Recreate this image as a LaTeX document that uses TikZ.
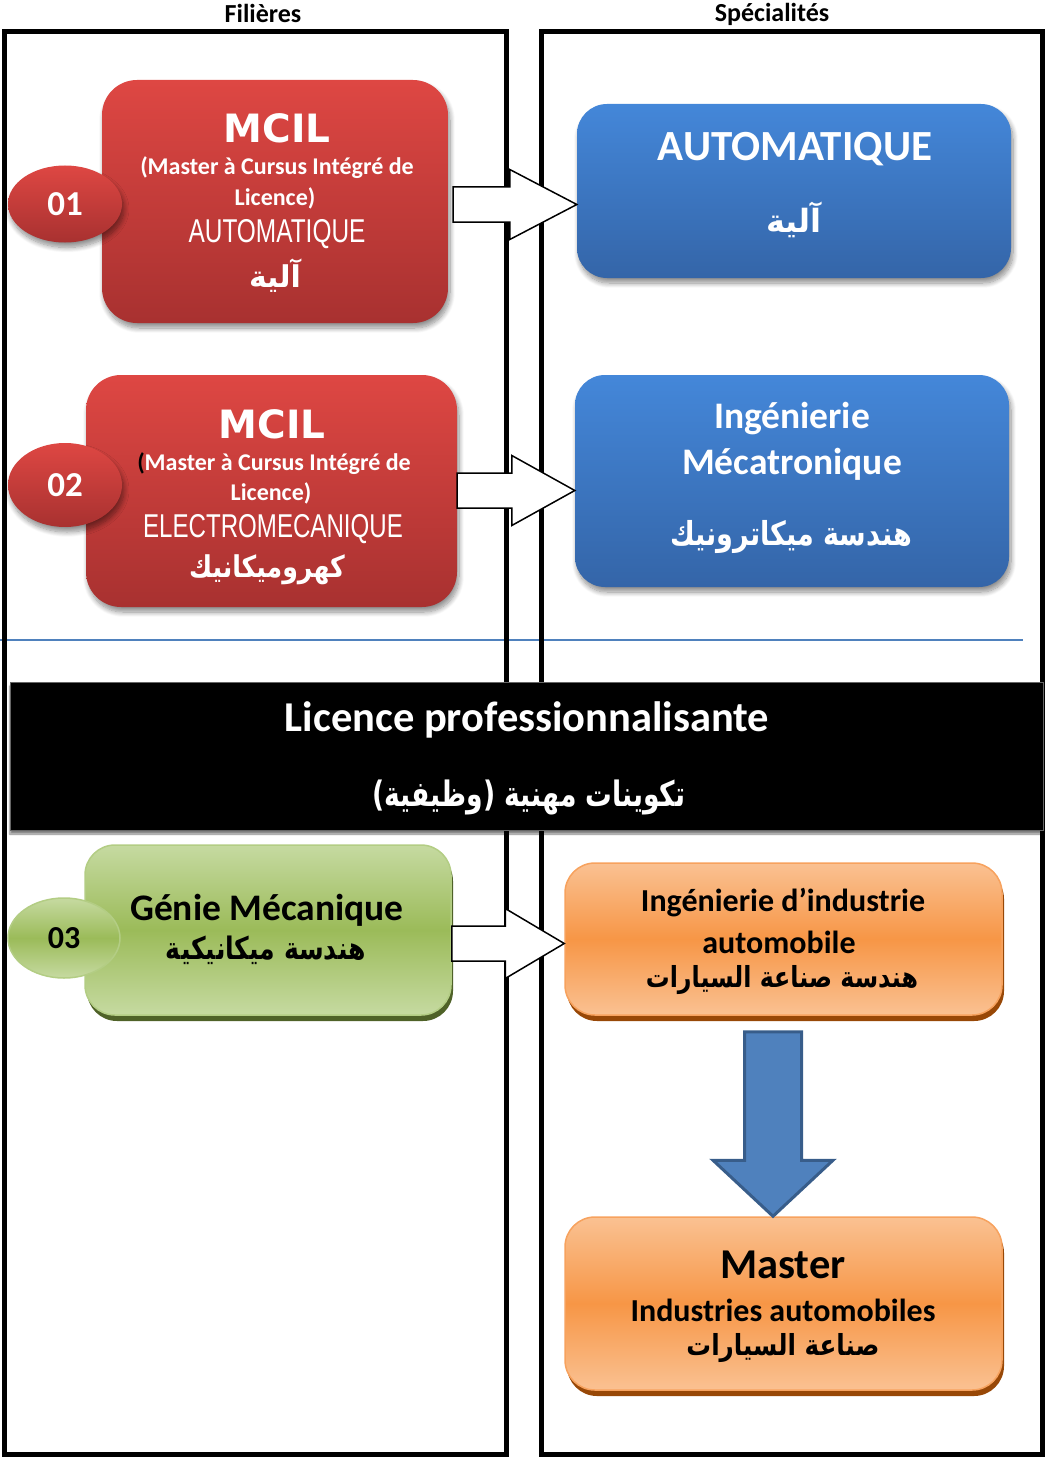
\documentclass[tikz,border=0pt]{standalone}
\usepackage{fontspec}
\setmainfont{Carlito}
\newfontfamily\heavyfont{DejaVu Sans}
\newfontfamily\narrowfont{Liberation Sans}
\newfontfamily\arabicfont[Script=Arabic]{DejaVu Sans}
\TeXXeTstate=1
\usetikzlibrary{shapes.geometric,shadows,shadows.blur,calc}
\definecolor{redTop}{HTML}{DE4743}
\definecolor{redBot}{HTML}{A83130}
\definecolor{blueTop}{HTML}{4487D9}
\definecolor{blueBot}{HTML}{3465A8}
\definecolor{grnLight}{HTML}{C6DAA1}
\definecolor{grnMid}{HTML}{9BBB59}
\definecolor{grnEdge}{HTML}{B3CD84}
\definecolor{grnDark}{HTML}{4F6228}
\definecolor{orLight}{HTML}{FAC192}
\definecolor{orMid}{HTML}{F79646}
\definecolor{orEdge}{HTML}{F7A25E}
\definecolor{orDark}{HTML}{984807}
\definecolor{lineBlue}{HTML}{4F81BD}
\definecolor{arrBorder}{HTML}{385D8A}
\newcommand{\ar}[2]{\scalebox{#1}[1]{\arabicfont\bfseries #2}}
\newcommand{\fs}[1]{\fontsize{#1}{#1}\selectfont}
\newcommand{\blockarr}[4]{%
  \draw[warrow] ($(#1)+(0,-17.5)$) -- ($(#2)+(-#3,-17.5)$) -- ($(#2)+(-#3,-#4)$) -- (#2)
    -- ($(#2)+(-#3,#4)$) -- ($(#2)+(-#3,17.5)$) -- ($(#1)+(0,17.5)$) -- cycle;}
\begin{document}
\begin{tikzpicture}[x=1pt,y=-1pt,
  frame/.style={draw=black, line width=5pt},
  softshadow/.style={blur shadow={shadow blur steps=10, shadow xshift=2pt, shadow yshift=-5pt, shadow opacity=45, shadow blur radius=5pt}},
  redbox/.style={rounded corners=35pt, top color=redTop, bottom color=redBot, inner sep=0pt, softshadow},
  bluebox/.style={rounded corners=30pt, top color=blueTop, bottom color=blueBot, inner sep=0pt, softshadow},
  redell/.style={ellipse, inner sep=0pt, minimum width=114pt, top color=redTop, bottom color=redBot, softshadow, text=white, font=\bfseries\fs{35}},
  grnbox/.style={rounded corners=30pt, draw=grnEdge, line width=1.5pt, top color=grnLight, bottom color=grnLight, middle color=grnMid, inner sep=0pt,
     general shadow={fill=grnDark, shadow xshift=2pt, shadow yshift=-6pt}},
  orbox/.style={rounded corners=30pt, draw=orEdge, line width=1.5pt, top color=orLight, bottom color=orLight, middle color=orMid, inner sep=0pt,
     general shadow={fill=orDark, shadow xshift=2pt, shadow yshift=-6pt}},
  grnell/.style={ellipse, inner sep=0pt, minimum width=112pt, minimum height=80pt, draw=grnEdge, line width=1.5pt, top color=grnLight, bottom color=grnLight, middle color=grnMid, font=\bfseries\fs{32}},
  wtxt/.style={text=white, inner sep=0pt, align=center},
  btxt/.style={text=black, inner sep=0pt, align=center},
  warrow/.style={draw=black, fill=white, line width=1.5pt, line join=miter},
  downarr/.style={draw=arrBorder, fill=lineBlue, line width=3pt, line join=miter},
  hdr/.style={inner sep=0pt, font=\bfseries\fs{26}}
]
\useasboundingbox (0,0) rectangle (1046,1458);

% separator line and frames
\draw[lineBlue, line width=2.5pt] (0,640) -- (1023,640);
\draw[frame] (4.5,32) rectangle (506,1454);
\draw[frame] (541.5,32) rectangle (1042,1454);
\node[hdr] (hf) at (263,13) {Filières};
\node[hdr] (hs) at (772,14) {Spécialités};

% red box 1
\node[redbox, minimum width=346pt, minimum height=243pt] (r1) at (275,201.5) {};
\node[redell, minimum height=77pt] (e1) at (65,204) {01};
\node[wtxt, font=\heavyfont\bfseries\fs{39}] (r1a) at (277,128) {MCIL};
\node[wtxt, font=\bfseries\fs{24}] (r1b) at (277,168) {(Master à Cursus Intégré de};
\node[wtxt, font=\bfseries\fs{24}] (r1c) at (275,198) {Licence)};
\node[wtxt, font=\narrowfont\fs{33}] (r1d) at (277,234) {\scalebox{0.74}[1]{AUTOMATIQUE}};
\node[wtxt, font=\fs{30}] (r1e) at (275,276) {\ar{1}{\beginR آلية\endR}};

% red box 2
\node[redbox, minimum width=371pt, minimum height=232pt] (r2) at (271.5,491) {};
\node[redell, minimum height=84pt] (e2) at (65,485) {02};
\node[wtxt, font=\heavyfont\bfseries\fs{39}] (r2a) at (272,424) {MCIL};
\node[wtxt, font=\bfseries\fs{24}] (r2b) at (274,464) {\textcolor{black}{(}Master à Cursus Intégré de};
\node[wtxt, font=\bfseries\fs{24}] (r2c) at (271,493) {Licence)};
\node[wtxt, font=\narrowfont\fs{33}] (r2d) at (273,529) {\scalebox{0.73}[1]{ELECTROMECANIQUE}};
\node[wtxt, font=\fs{30}] (r2e) at (267,570) {\ar{0.84}{\beginR كهروميكانيك\endR}};

% blue boxes
\node[bluebox, minimum width=434pt, minimum height=174pt] (b1) at (794,191) {};
\node[wtxt, font=\bfseries\fs{43}] (b1a) at (795,149) {AUTOMATIQUE};
\node[wtxt, font=\fs{32}] (b1b) at (794,220) {\ar{1}{\beginR آلية\endR}};
\node[bluebox, minimum width=434pt, minimum height=212pt] (b2) at (792,481) {};
\node[wtxt, font=\bfseries\fs{37.5}] (b2a) at (792,419) {Ingénierie};
\node[wtxt, font=\bfseries\fs{37.5}] (b2b) at (792,464) {Mécatronique};
\node[wtxt, font=\fs{33}] (b2c) at (791,537) {\ar{0.82}{\beginR هندسة ميكاترونيك\endR}};

% white arrows
\coordinate (w1) at ($(r1.east)+(5,3)$);
\coordinate (t1) at (w1 -| b1.west);
\blockarr{w1}{t1}{67}{35}
\coordinate (w2) at ($(r2.east)+(0,-0.5)$);
\coordinate (t2) at (w2 -| b2.west);
\blockarr{w2}{t2}{63}{35}

% banner
\node[fill=black, draw=black!60, line width=1pt, minimum width=1033pt, minimum height=148pt, inner sep=0pt,
  blur shadow={shadow blur steps=6, shadow xshift=0pt, shadow yshift=-4pt, shadow opacity=50}] (bn) at (526.5,756) {};
\node[wtxt, font=\bfseries\fs{42.5}] (bna) at (527,720) {Licence professionnalisante};
\node[wtxt, font=\fs{35}] (bnb) at (529,797) {\ar{0.76}{\beginR تكوينات مهنية (وظيفية)\endR}};

% green box
\node[grnbox, minimum width=366pt, minimum height=170pt] (g) at (268,930) {};
\node[grnell] (e3) at (64,938) {03};
\node[btxt, font=\bfseries\fs{37.5}] (ga) at (267,910) {Génie Mécanique};
\node[btxt, font=\fs{31}] (gb) at (266,950) {\ar{0.81}{\beginR هندسة ميكانيكية\endR}};

% orange boxes
\node[orbox, minimum width=437pt, minimum height=152pt] (o1) at (783.5,939) {};
\node[btxt, font=\bfseries\fs{32}] (o1a) at (783,903) {Ingénierie d’industrie};
\node[btxt, font=\bfseries\fs{32}] (o1b) at (779,942) {automobile};
\node[btxt, font=\fs{29}] (o1c) at (782,980) {\ar{0.82}{\beginR هندسة صناعة السيارات\endR}};
\node[orbox, minimum width=437pt, minimum height=173pt] (o2) at (783.5,1303.5) {};
\node[btxt, font=\bfseries\fs{42.5}] (o2a) at (783,1265) {Master};
\node[btxt, font=\bfseries\fs{32}] (o2b) at (783,1310) {Industries automobiles};
\node[btxt, font=\fs{29}] (o2c) at (783,1348) {\ar{0.85}{\beginR صناعة السيارات\endR}};

\coordinate (w3) at ($(g.east)+(0,13.5)$);
\coordinate (t3) at (w3 -| o1.west);
\blockarr{w3}{t3}{59}{35}

% blue down arrow
\coordinate (dtop) at ($(o1.south)+(-10.5,16)$);
\coordinate (dtip) at (dtop |- o2.north);
\draw[downarr] ($(dtop)+(-28.5,0)$) -- ($(dtop)+(28.5,0)$) -- ($(dtip)+(28.5,-56)$) -- ($(dtip)+(60,-56)$) -- (dtip)
   -- ($(dtip)+(-60,-56)$) -- ($(dtip)+(-28.5,-56)$) -- cycle;
\end{tikzpicture}
\end{document}
